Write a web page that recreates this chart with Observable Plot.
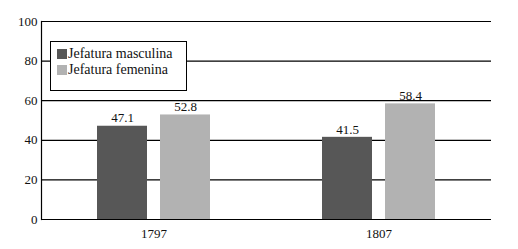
<!DOCTYPE html>
<html>
<head>
<meta charset="utf-8">
<script src="https://cdn.jsdelivr.net/npm/d3@7"></script>
<script src="https://cdn.jsdelivr.net/npm/@observablehq/plot@0.6"></script>
<style>
  html, body { margin: 0; padding: 0; background: #fff; }
  #wrap { position: relative; width: 518px; height: 249px; font-family: "Liberation Serif", "Times New Roman", "DejaVu Serif", serif; }
  #wrap svg { position: absolute; left: 0; top: 0; }
  #legend { position: absolute; left: 50px; top: 41px; width: 137px; height: 50px; box-sizing: border-box;
    border: 1px solid #000; background: #fff; font-size: 14px; color: #111; padding-left: 6px; padding-top: 4px;
    font-family: "Liberation Serif", "Times New Roman", "DejaVu Serif", serif; }
  .row { display: flex; align-items: center; height: 16px; line-height: 16px; }
  .sw { width: 10px; height: 10px; margin-right: 1px; flex: none; }
</style>
</head>
<body>
<div id="wrap"></div>
<script>
const years = ["1797", "1807"];
const series = ["Jefatura masculina", "Jefatura femenina"];
const masculina = [47.1, 41.5];
const femenina = [52.8, 58.4];
const yTicks = [0, 20, 40, 60, 80, 100];
const colors = ["#575757", "#b2b2b2"];
const FONT = "'Liberation Serif', 'Times New Roman', 'DejaVu Serif', serif";

const rows = [];
years.forEach((yr, i) => {
  rows.push({ year: yr, series: series[0], value: masculina[i] });
  rows.push({ year: yr, series: series[1], value: femenina[i] });
});

const chart = Plot.plot({
  width: 518,
  height: 249,
  marginLeft: 40,
  marginRight: 27,
  marginTop: 21,
  marginBottom: 30,
  style: { fontFamily: FONT, fontSize: "13px", color: "#111", background: "transparent" },
  fx: { domain: years, padding: 0, axis: null },
  x: { domain: series, paddingInner: 0.2, paddingOuter: 0.86, axis: null },
  y: { domain: [0, 100], axis: null },
  color: { domain: series, range: colors },
  marks: [
    Plot.ruleY(yTicks, { stroke: "#000", strokeWidth: 1.2 }),
    Plot.barY(rows, { fx: "year", x: "series", y: "value", fill: "series" }),
    Plot.text(rows, { fx: "year", x: "series", y: "value", text: d => d.value.toFixed(1), dy: -8, fontSize: 13, fontFamily: FONT, fill: "#111" }),
    Plot.axisY(yTicks, { tickSize: 0, tickPadding: 4, label: null, fontSize: 13, fontFamily: FONT }),
    Plot.frame({ anchor: "left", facetAnchor: "left", stroke: "#000", strokeWidth: 1.2 }),
    Plot.axisFx({ anchor: "bottom", tickSize: 0, tickPadding: 9, label: null, fontSize: 13, fontFamily: FONT })
  ]
});

const wrap = document.getElementById("wrap");
wrap.appendChild(chart);

const legend = document.createElement("div");
legend.id = "legend";
series.forEach((s, i) => {
  const r = document.createElement("div");
  r.className = "row";
  const sw = document.createElement("span");
  sw.className = "sw";
  sw.style.background = colors[i];
  const t = document.createElement("span");
  t.textContent = s;
  r.appendChild(sw);
  r.appendChild(t);
  legend.appendChild(r);
});
wrap.appendChild(legend);
</script>
</body>
</html>
